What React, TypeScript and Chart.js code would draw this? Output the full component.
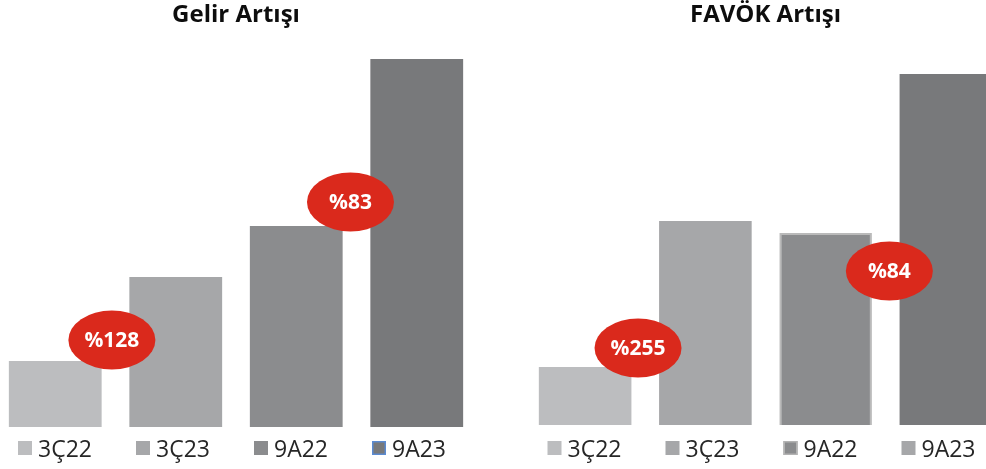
import React, { useEffect, useRef } from "react";
import { Chart, registerables } from "chart.js";

Chart.register(...registerables);

const CATEGORIES = ["3Ç22", "3Ç23", "9A22", "9A23"];
const GELIR_VALUES = [66, 150, 201, 368];
const FAVOK_VALUES = [58, 204, 192, 351];
const GELIR_BADGES = ["%128", "%83"];
const FAVOK_BADGES = ["%255", "%84"];
const GELIR_BADGE_AT = [0.47, 2.45];
const FAVOK_BADGE_AT = [0.44, 2.53];
const GELIR_BADGE_Y = [87, 225];
const FAVOK_BADGE_Y = [77, 154];

const BAR_COLORS = ["#bcbdbf", "#a6a7a9", "#8b8c8e", "#78797b"];
const RED = "#da291c";
const FONT = "'Open Sans', 'DejaVu Sans', sans-serif";

type PanelProps = {
  title: string;
  values: number[];
  badges: string[];
  badgeAt: number[];
  badgeY: number[];
  yMax: number;
  padBottom: number;
  barBorderWidths: number[];
  barBorderColors: string[];
  legendFill: string[];
  legendBorder: (string | null)[];
  left: number;
  width: number;
};

function Panel(p: PanelProps) {
  const ref = useRef<HTMLCanvasElement | null>(null);
  useEffect(() => {
    if (!ref.current) return;
    const badgePlugin = {
      id: "badges",
      afterDatasetsDraw(chart: any) {
        const ctx = chart.ctx;
        const xs = chart.scales.x;
        const ys = chart.scales.y;
        p.badges.forEach((label, i) => {
          const x = xs.getPixelForValue(p.badgeAt[i]);
          const y = ys.getPixelForValue(p.badgeY[i]);
          ctx.save();
          ctx.beginPath();
          ctx.ellipse(x, y, 43.5, 29.5, 0, 0, Math.PI * 2);
          ctx.fillStyle = RED;
          ctx.fill();
          ctx.fillStyle = "#ffffff";
          ctx.font = `bold 21px ${FONT}`;
          ctx.textAlign = "center";
          ctx.textBaseline = "middle";
          ctx.fillText(label, x, y + 1);
          ctx.restore();
        });
      },
    };
    const legendPlugin = {
      id: "catLegend",
      afterDraw(chart: any) {
        const ctx = chart.ctx;
        const area = chart.chartArea;
        const cx = (area.left + area.right) / 2;
        ctx.save();
        CATEGORIES.forEach((cat, i) => {
          const sx = cx + (i - 1.5) * 118 - 41;
          const sy = 441;
          ctx.fillStyle = p.legendFill[i];
          ctx.fillRect(sx, sy, 14, 14);
          const b = p.legendBorder[i];
          if (b) {
            ctx.strokeStyle = b;
            ctx.lineWidth = 1.5;
            ctx.strokeRect(sx + 0.75, sy + 0.75, 12.5, 12.5);
          }
          ctx.fillStyle = "#262626";
          ctx.font = `23px ${FONT}`;
          ctx.textAlign = "left";
          ctx.textBaseline = "alphabetic";
          ctx.fillText(cat, sx + 20, 457);
        });
        ctx.restore();
      },
    };
    const chart = new Chart(ref.current, {
      type: "bar",
      data: {
        labels: CATEGORIES,
        datasets: [
          {
            data: p.values,
            backgroundColor: BAR_COLORS,
            borderColor: p.barBorderColors,
            borderWidth: p.barBorderWidths,
            categoryPercentage: 1,
            barPercentage: 0.77,
          },
        ],
      },
      options: {
        responsive: false,
        animation: false,
        layout: { padding: { top: 0, bottom: p.padBottom, left: 0, right: 0 } },
        scales: {
          x: { display: false },
          y: { display: false, min: 0, max: p.yMax },
        },
        plugins: {
          legend: { display: false },
          tooltip: { enabled: false },
          title: {
            display: true,
            text: p.title,
            color: "#0d0d0d",
            font: { family: FONT, size: 24, weight: "bold", lineHeight: 1.15 },
            padding: { top: 1, bottom: 11.4 },
          },
        },
      },
      plugins: [badgePlugin, legendPlugin],
    });
    return () => chart.destroy();
  }, []);
  return (
    <canvas
      ref={ref}
      width={p.width}
      height={469}
      style={{ position: "absolute", left: p.left, top: 0, display: "block" }}
    />
  );
}

export default function App() {
  return (
    <div
      style={{
        position: "fixed",
        left: 0,
        top: 0,
        width: 986,
        height: 469,
        overflow: "hidden",
        background: "#ffffff",
      }}
    >
      <Panel
        title="Gelir Artışı"
        values={GELIR_VALUES}
        badges={GELIR_BADGES}
        badgeAt={GELIR_BADGE_AT}
        badgeY={GELIR_BADGE_Y}
        yMax={387}
        padBottom={42}
        barBorderWidths={[0, 0, 0, 0]}
        barBorderColors={["#bcbdbf", "#a6a7a9", "#8b8c8e", "#78797b"]}
        legendFill={["#bcbdbf", "#a6a7a9", "#8b8c8e", "#78797b"]}
        legendBorder={[null, null, null, "#5b8bd2"]}
        left={-5}
        width={482}
      />
      <Panel
        title="FAVÖK Artışı"
        values={FAVOK_VALUES}
        badges={FAVOK_BADGES}
        badgeAt={FAVOK_BADGE_AT}
        badgeY={FAVOK_BADGE_Y}
        yMax={385}
        padBottom={44}
        barBorderWidths={[0, 0, 2, 0]}
        barBorderColors={["#bcbdbf", "#a6a7a9", "#bababa", "#78797b"]}
        legendFill={["#bcbdbf", "#a6a7a9", "#8b8c8e", "#a6a7a9"]}
        legendBorder={[null, null, "#b3b3b3", null]}
        left={525}
        width={481}
      />
    </div>
  );
}
